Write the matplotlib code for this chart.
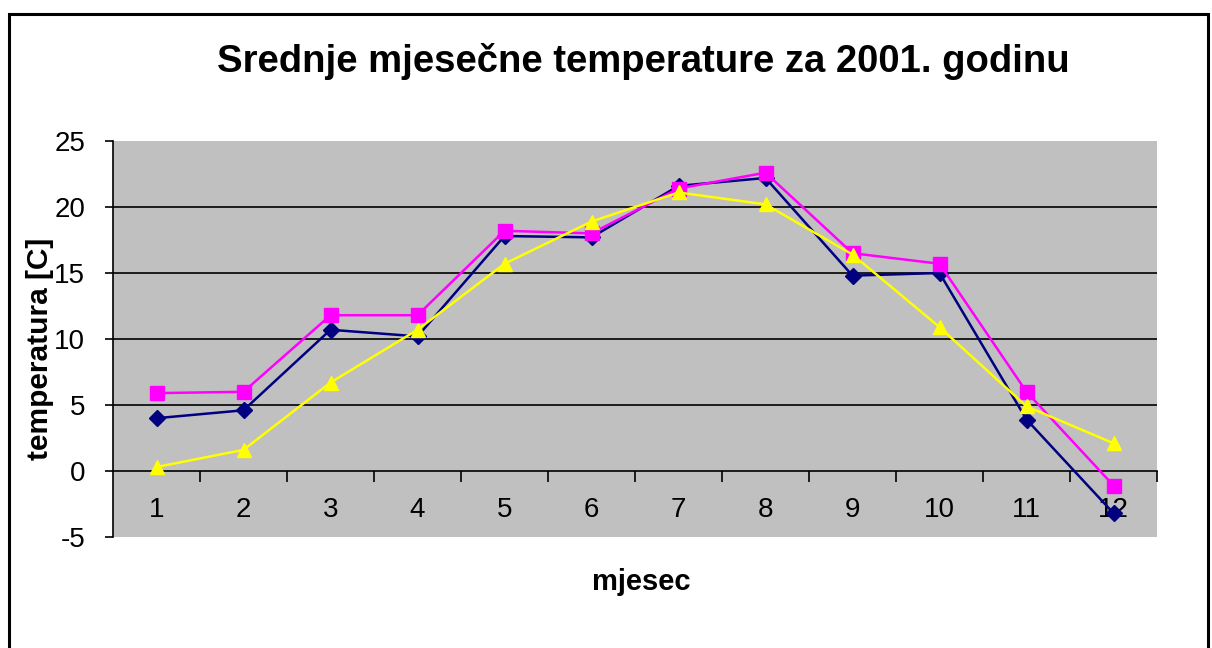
import matplotlib
matplotlib.use('Agg')
import matplotlib.pyplot as plt
from matplotlib.patches import Rectangle

plt.rcParams['font.family'] = ['Liberation Sans', 'DejaVu Sans']
plt.rcParams['axes.unicode_minus'] = False

# mjeseci i srednje temperature (tri serije)
months = [1, 2, 3, 4, 5, 6, 7, 8, 9, 10, 11, 12]
month_labels = ['1', '2', '3', '4', '5', '6', '7', '8', '9', '10', '11', '12']
temp_navy = [4.0, 4.6, 10.7, 10.2, 17.8, 17.7, 21.6, 22.2, 14.8, 15.0, 3.9, -3.2]
temp_magenta = [5.9, 6.0, 11.8, 11.8, 18.2, 18.0, 21.4, 22.6, 16.5, 15.7, 6.0, -1.1]
temp_yellow = [0.3, 1.6, 6.7, 10.7, 15.7, 18.9, 21.1, 20.2, 16.4, 10.9, 4.9, 2.1]
y_ticks = [-5, 0, 5, 10, 15, 20, 25]

W, H = 1212, 648
fig = plt.figure(figsize=(W / 100, H / 100), dpi=100)
fig.patch.set_facecolor('white')

# okvir oko grafikona
fig.patches.append(Rectangle((9 / W, -0.1), (1208 - 9) / W, 1.1 - 14 / H,
                             transform=fig.transFigure, fill=False,
                             edgecolor='black', lw=2.2, zorder=0))

ax = fig.add_axes([113 / W, 1 - 537 / H, (1157 - 113) / W, (537 - 141) / H])
ax.set_facecolor('#C0C0C0')
ax.set_xlim(0.5, 12.5)
ax.set_ylim(-5, 25)

for s in ['top', 'right']:
    ax.spines[s].set_visible(False)
ax.spines['bottom'].set_position(('data', 0))
ax.spines['bottom'].set_linewidth(1.2)
ax.spines['left'].set_linewidth(1.2)

for v in [5, 10, 15, 20]:
    ax.axhline(v, color='black', lw=1.2, zorder=1)

ax.plot(months, temp_navy, color='#000080', lw=1.8, marker='D', ms=8,
        zorder=3, clip_on=False)
ax.plot(months, temp_magenta, color='#FF00FF', lw=1.8, marker='s', ms=9.5,
        zorder=4, clip_on=False)
ax.plot(months, temp_yellow, color='#FFFF00', lw=1.8, marker='^', ms=10,
        zorder=5, clip_on=False)

ax.set_xticks(months)
ax.set_xticklabels(month_labels)
ax.set_xticks([m + 0.5 for m in months], minor=True)
ax.tick_params(axis='x', which='major', length=0, pad=19, labelsize=20)
ax.tick_params(axis='x', which='minor', length=8, width=1.2, direction='out')
ax.set_yticks(y_ticks)
ax.tick_params(axis='y', length=6, width=1.2, direction='out', pad=14, labelsize=20)

fig.text(643 / W, 1 - 72 / H, 'Srednje mjesečne temperature za 2001. godinu',
         ha='center', va='baseline', fontsize=27.5, fontweight='bold')
fig.text(40 / W, 1 - 349 / H, 'temperatura [C]', rotation=90,
         ha='center', va='center', fontsize=21.5, fontweight='bold')
fig.text(641 / W, 1 - 582 / H, 'mjesec', ha='center', va='center',
         fontsize=21, fontweight='bold')

fig.savefig('out.png', dpi=100)
